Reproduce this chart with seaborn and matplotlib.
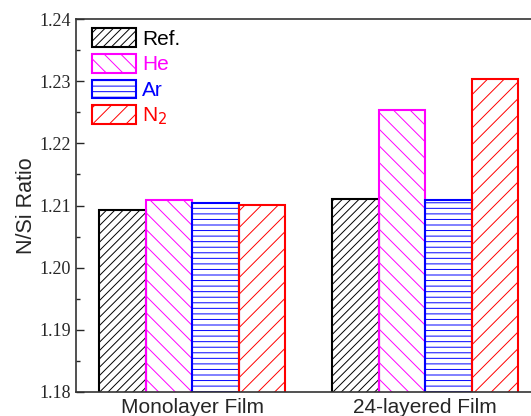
import matplotlib
matplotlib.use("Agg")
import matplotlib.pyplot as plt
import seaborn as sns
import pandas as pd

films = ["Monolayer Film", "24-layered Film"]
gases = ["Ref.", "He", "Ar", "N$_2$"]
ref_vals = [1.2093, 1.2110]
he_vals = [1.2109, 1.2254]
ar_vals = [1.2104, 1.2109]
n2_vals = [1.2101, 1.2303]

colors = ["#000000", "#FF00FF", "#0000FF", "#FF0000"]
hatches = ["////", "\\\\", "---", "//"]


def main():
    rows = []
    for g, vals in zip(gases, [ref_vals, he_vals, ar_vals, n2_vals]):
        for f, v in zip(films, vals):
            rows.append({"film": f, "gas": g, "ratio": v})
    df = pd.DataFrame(rows)

    sns.set_style("ticks")
    plt.rcParams["font.family"] = ["Liberation Sans", "DejaVu Sans"]
    plt.rcParams["hatch.linewidth"] = 0.7

    fig = plt.figure(figsize=(5.31, 4.16), dpi=100)
    ax = fig.add_axes([0.1431, 0.0577, 0.8766, 0.8966])

    sns.barplot(data=df, x="film", y="ratio", hue="gas", hue_order=gases,
                order=films, palette=colors, fill=False, linewidth=1.5,
                width=0.8, ax=ax, legend=False)

    for cont, h, c in zip(ax.containers, hatches, colors):
        for bar in cont:
            bar.set_hatch(h)
            bar.set_edgecolor(c)

    ax.set_ylim(1.18, 1.24)
    ax.set_xlim(-0.5, 1.5)
    ax.set_yticks([1.18, 1.19, 1.20, 1.21, 1.22, 1.23, 1.24])
    ax.set_yticklabels(["1.18", "1.19", "1.20", "1.21", "1.22", "1.23", "1.24"],
                       family="Liberation Serif", fontsize=13)
    ax.set_yticks([1.185, 1.195, 1.205, 1.215, 1.225, 1.235], minor=True)
    ax.tick_params(axis="y", which="major", direction="in", length=6, width=1)
    ax.tick_params(axis="y", which="minor", direction="in", length=3, width=1)
    ax.tick_params(axis="x", length=0, labelsize=15, pad=4)
    ax.set_xlabel("")
    ax.set_ylabel("N/Si Ratio", fontsize=15.5, labelpad=2)
    for s in ax.spines.values():
        s.set_linewidth(1.2)
        s.set_color("#333333")

    handles = [cont[0] for cont in ax.containers]
    ax.legend(handles, gases, loc="upper left",
              frameon=False, fontsize=15, handlelength=2.1,
              handleheight=1.0, handletextpad=0.3, labelspacing=0.25,
              borderaxespad=0.0, borderpad=0.0,
              bbox_to_anchor=(0.034, 0.975),
              labelcolor=colors)

    fig.savefig("out.png", dpi=100)


if __name__ == "__main__":
    main()
